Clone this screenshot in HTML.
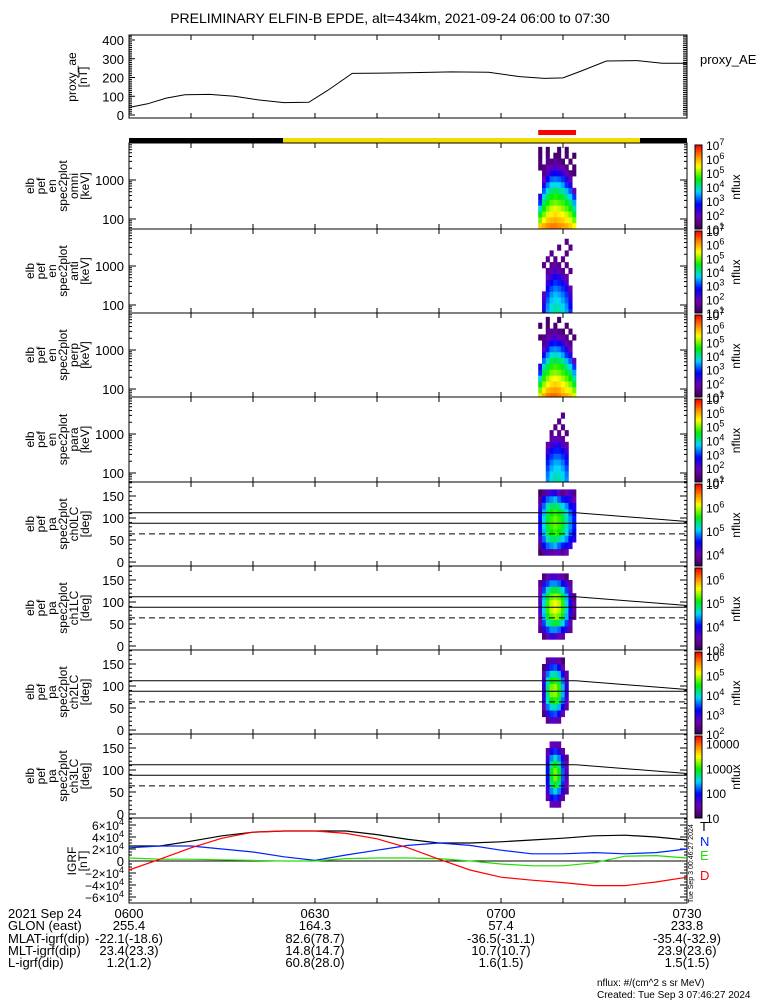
<!DOCTYPE html>
<html><head><meta charset="utf-8"><style>
body{margin:0;background:#fff;}
svg{display:block;font-family:"Liberation Sans",sans-serif;}
</style></head><body>
<svg id="c" width="775" height="1000" xmlns="http://www.w3.org/2000/svg"></svg>
<script>
// ---- data ----
const aeTimes=[0,3,6,9,13,17,21,25,29,32,36,45,52,58,63,67,70,73,77,82,86,90];
const aeValues=[40,60,90,108,110,100,80,66,68,130,222,225,230,228,205,195,198,235,288,290,276,276];
const igrfTimes=[0,5,10,15,20,25,30,35,40,45,50,55,60,65,70,75,80,85,90];
const igrfT=[2.5,2.5,3.3,4.2,4.8,5.0,5.0,5.0,4.4,3.6,3.0,3.0,3.2,3.5,3.8,4.2,4.3,4.0,3.5];
const igrfN=[2.2,2.5,2.5,2.0,1.5,0.7,0.1,1.0,1.8,2.6,3.0,2.6,1.8,1.2,1.2,1.4,1.2,1.4,2.0];
const igrfE=[0.5,0.3,0.3,0.2,0.1,0,0,0.4,0.5,0.5,0.4,0,-0.5,-0.8,-0.8,-0.3,0.8,0.9,0.5];
const igrfD=[-1.5,0.3,2.2,3.8,4.8,5.0,5.0,4.6,3.7,2.2,0.3,-1.5,-2.7,-3.2,-3.6,-4.1,-4.1,-3.5,-2.7];
const specStart=66.0, specEnd=72.1; // minutes after 06:00
const omni=[
[5.8,6,6.2,6.3,6.3,6.2,6.1,6,5.8,5.5],
[5,5.5,5.8,5.9,6,5.9,5.8,5.6,5.4,5],
[4.5,5,5.4,5.6,5.7,5.6,5.5,5.3,5,4.5],
[3.8,4.6,5,5.3,5.4,5.3,5.1,4.9,4.6,4],
[3,4.2,4.6,4.9,5,4.9,4.8,4.5,4.2,3.5],
[2.5,3.8,4.3,4.6,4.7,4.6,4.4,4.1,3.7,3],
[0,3.2,3.8,4.2,4.3,4.2,4,3.6,3.2,2],
[0,2.5,3.3,3.7,3.8,3.7,3.5,3,2.5,0],
[0,2,2.8,3.2,3.3,3.2,3,2.5,2,0],
[0,1.5,2.2,2.6,2.8,2.6,2.4,2,1.5,1.3],
[1.3,1.5,1.8,2,2.2,2,1.8,1.5,0,1.3],
[1.3,0,1.5,1.5,1.7,1.5,1.3,0,1.3,0],
[1.2,0,1.3,0,1.3,1.3,0,1.3,0,1.2],
[1.2,0,1.2,0,0,1.2,0,1.2,0,0]];
const perp=[
[5.7,6,6.3,6.4,6.4,6.3,6.1,6,5.8,5.4],
[5,5.6,5.9,6,6.1,6,5.8,5.6,5.4,5],
[4.5,5.1,5.5,5.7,5.8,5.7,5.5,5.3,5,4.5],
[3.8,4.7,5.1,5.4,5.5,5.4,5.2,4.9,4.6,4],
[3,4.3,4.7,5,5.1,5,4.8,4.5,4.2,3.5],
[2.5,3.9,4.4,4.7,4.8,4.7,4.5,4.1,3.7,3],
[0,3.3,3.9,4.3,4.4,4.3,4.1,3.6,3.2,2],
[0,2.6,3.4,3.8,3.9,3.8,3.5,3,2.5,0],
[0,2,2.9,3.3,3.4,3.3,3,2.5,2,0],
[0,1.5,2.3,2.7,2.9,2.7,2.4,2,1.5,0],
[1.3,1.5,1.8,2.1,2.2,2,1.8,1.5,0,1.3],
[0,0,1.5,1.6,1.7,1.5,1.3,0,1.3,0],
[1.2,0,1.3,0,1.3,0,0,1.3,0,0],
[0,0,1.2,0,0,1.2,0,0,0,0]];
const anti=[
[0,2.5,3.5,3.8,4,4,3.8,3.5,3,0],
[0,2.5,3.4,3.8,4,3.9,3.7,3.4,2.8,0],
[0,2.3,3.2,3.6,3.8,3.7,3.5,3.2,2.5,0],
[0,2,3,3.4,3.6,3.5,3.3,3,2.3,0],
[0,0,2.7,3.1,3.3,3.2,3,2.6,2,0],
[0,0,2.4,2.8,3,2.9,2.6,2.2,0,0],
[0,0,2,2.4,2.6,2.5,2.2,1.8,0,0],
[0,0,1.5,2,2.2,2,1.6,0,1.5,0],
[0,1.5,0,1.5,1.8,1.5,0,1.5,0,0],
[0,0,1.5,0,1.5,0,1.5,0,0,0],
[0,0,0,1.5,0,0,0,1.5,0,0],
[0,0,0,0,0,1.5,0,0,1.5,0],
[0,0,0,0,0,0,0,1.5,0,0],
[0,0,0,0,0,0,0,0,0,0]];
const para=[
[0,0,3.4,3.8,4,4,3.8,3.4,0,0],
[0,0,3.3,3.7,3.9,3.9,3.7,3.3,0,0],
[0,0,3.1,3.5,3.7,3.7,3.5,3.1,0,0],
[0,0,2.9,3.3,3.5,3.5,3.3,2.9,0,0],
[0,0,2.6,3,3.2,3.2,3,2.6,0,0],
[0,0,2.2,2.7,2.9,2.9,2.7,2.2,0,0],
[0,0,1.8,2.3,2.5,2.5,2.2,1.8,0,0],
[0,0,0,1.8,2,2,1.7,0,0,0],
[0,0,0,1.5,0,1.6,0,1.5,0,0],
[0,0,0,0,1.5,0,1.5,0,0,0],
[0,0,0,0,0,1.5,0,0,0,0],
[0,0,0,0,0,0,1.5,0,0,0],
[0,0,0,0,0,0,0,0,0,0],
[0,0,0,0,0,0,0,0,0,0]];
const pa0=[
[0,0,0,0,0,0,0,0,0,0],
[3.6,3.8,4.2,3.9,4,4.1,3.8,4,0,0],
[3.8,4.5,4.8,4.9,5,4.8,4.6,4.5,4.3,0],
[4.2,4.8,5.2,5.4,5.4,5.3,5.1,4.9,4.5,4.4],
[4.4,5,5.4,5.6,5.7,5.6,5.4,5.1,4.8,4.5],
[4.5,5.1,5.5,5.7,5.8,5.7,5.5,5.2,4.9,4.6],
[4.5,5.1,5.5,5.7,5.8,5.7,5.5,5.2,4.9,4.6],
[4.4,5,5.4,5.6,5.7,5.6,5.4,5.1,4.8,4.5],
[4.2,4.8,5.2,5.4,5.4,5.3,5.1,4.9,4.5,4.4],
[3.8,4.5,4.8,4.9,5,4.8,4.6,4.5,4.3,4],
[3.6,3.8,4.2,4.3,4.4,4.1,3.8,4,4.2,3.8],
[0,0,0,0,0,0,0,0,0,0]];
const pa1=[
[0,0,0,0,0,0,0,0,0,0],
[0,3.2,3.6,3.8,3.7,3.6,3.4,0,0,0],
[3.3,3.8,4.2,4.4,4.4,4.3,4,3.8,3.4,0],
[3.5,4.2,4.7,4.9,5,4.9,4.6,4.2,3.6,0],
[3.6,4.5,5,5.3,5.4,5.3,5,4.5,3.8,3.3],
[3.7,4.6,5.2,5.5,5.6,5.5,5.2,4.6,3.9,3.4],
[3.7,4.6,5.2,5.5,5.6,5.5,5.2,4.6,3.9,3.4],
[3.6,4.5,5,5.3,5.4,5.3,5,4.5,3.8,3.3],
[3.5,4.2,4.7,4.9,5,4.9,4.6,4.2,3.6,0],
[3.3,3.8,4.2,4.4,4.4,4.3,4,3.8,3.4,0],
[0,3.2,3.5,3.7,3.7,3.6,3.4,3.2,0,0],
[0,0,0,0,0,0,0,0,0,0]];
const pa2=[
[0,0,0,0,0,0,0,0,0,0],
[0,0,2.4,2.8,2.8,2.5,0,0,0,0],
[0,2.2,3,3.4,3.5,3.2,2.6,0,0,0],
[0,2.6,3.6,4,4.1,3.8,3.2,2.5,0,0],
[0,2.9,4,4.5,4.6,4.3,3.6,2.8,0,0],
[0,3,4.2,4.8,4.9,4.6,3.8,3,0,0],
[0,3,4.2,4.8,4.9,4.6,3.8,3,0,0],
[0,2.9,4,4.5,4.6,4.3,3.6,2.8,0,0],
[0,2.6,3.6,4,4.1,3.8,3.2,2.5,0,0],
[0,2.2,3,3.4,3.5,3.2,2.6,0,0,0],
[0,0,2.4,2.8,2.8,2.5,2.2,0,0,0],
[0,0,0,0,0,0,0,0,0,0]];
const pa3=[
[0,0,0,0,0,0,0,0,0,0],
[0,0,0,1.5,1.6,1.4,0,0,0,0],
[0,0,1.4,1.9,2.1,1.8,1.4,0,0,0],
[0,0,1.7,2.3,2.6,2.3,1.8,1.3,0,0],
[0,0,1.9,2.7,3,2.7,2.1,1.5,0,0],
[0,0,2,2.9,3.2,2.9,2.2,1.6,0,0],
[0,0,2,2.9,3.2,2.9,2.2,1.6,0,0],
[0,0,1.9,2.7,3,2.7,2.1,1.5,0,0],
[0,0,1.7,2.3,2.6,2.3,1.8,1.3,0,0],
[0,0,1.4,1.9,2.1,1.8,1.4,0,0,0],
[0,0,0,1.5,1.6,1.4,0,0,0,0],
[0,0,0,0,0,0,0,0,0,0]];
const loLine=[112,112,92]; // PA line values at t=0, t=specEnd, t=90
const midLine=88, dashLine=64;

// ---- helpers ----
const svg=document.getElementById('c');
const NS='http://www.w3.org/2000/svg';
function el(tag,attrs,parent){const e=document.createElementNS(NS,tag);for(const k in attrs)e.setAttribute(k,attrs[k]);(parent||svg).appendChild(e);return e;}
const X0=129,X1=687;
const xs=t=>X0+(X1-X0)*t/90;
const stops=[[0,[55,0,85]],[0.15,[110,0,180]],[0.3,[0,0,255]],[0.45,[0,215,255]],[0.6,[0,240,0]],[0.75,[255,255,0]],[0.87,[255,140,0]],[1,[255,0,0]]];
function cmap(v){v=Math.max(0,Math.min(1,v));for(let i=1;i<stops.length;i++){if(v<=stops[i][0]){const a=stops[i-1],b=stops[i],f=(v-a[0])/(b[0]-a[0]);const c=a[1].map((x,j)=>Math.round(x+(b[1][j]-x)*f));return `rgb(${c})`;}}return 'rgb(255,0,0)';}
function txt(s,x,y,o){const t=el('text',Object.assign({x:x,y:y,'font-size':12,fill:'#000'},o||{}));t.textContent=s;return t;}
function rotLabel(lines,x,cy,name){const g=el('g',{});lines.forEach((s,i)=>{const xx=x+i*11;const t=el('text',{x:xx,y:cy,'font-size':12,'text-anchor':'middle',transform:`rotate(-90 ${xx} ${cy})`},g);t.textContent=s;});}
function xticks(top,bot){for(let m=0;m<=90;m+=10){const x=xs(m);el('line',{x1:x,x2:x,y1:bot,y2:bot-5,stroke:'#000'});el('line',{x1:x,x2:x,y1:top,y2:top+5,stroke:'#000'});}}
function box(top,bot,name){const r=el('rect',{x:X0,y:top,width:X1-X0,height:bot-top,fill:'none',stroke:'#000','stroke-width':1});xticks(top,bot);}
function sup(base,exp,x,y,anchor,g){const t=el('text',{x:x,y:y,'font-size':12,'text-anchor':anchor||'start'},g);t.textContent=base;const s=el('tspan',{dy:-5,'font-size':9},t);s.textContent=exp;return t;}
function colorbar(top,bot,lo,hi,labels,name){const g=el('g',{});const n=40,h=(bot-top)/n;for(let i=0;i<n;i++)el('rect',{x:695,y:bot-(i+1)*h,width:7,height:h+0.5,fill:cmap((i+0.5)/n)},g);el('rect',{x:695,y:top,width:7,height:bot-top,fill:'none',stroke:'#000'},g);labels.forEach(L=>{const y=bot-(L[0]-lo)/(hi-lo)*(bot-top)+5;if(L[1])sup('10',L[0],706,y,'start',g);else {const t=el('text',{x:706,y:y,'font-size':12},g);t.textContent=L[2];}});const cy=(top+bot)/2;const t=el('text',{x:740,y:cy,'font-size':12,'text-anchor':'middle',transform:`rotate(-90 740 ${cy})`},g);t.textContent='nflux';}

// title
const ti=txt('PRELIMINARY ELFIN-B EPDE, alt=434km, 2021-09-24 06:00 to 07:30',390,23,{'text-anchor':'middle','font-size':14});


// ---- AE panel ----
const aeTop=35,aeBot=118,aeY=v=>115-v*0.1875;
box(aeTop,aeBot,'proxy-ae-panel');
[0,100,200,300,400].forEach(v=>{txt(String(v),124,aeY(v)+5,{'text-anchor':'end','font-size':13});el('line',{x1:X0,x2:X0+6,y1:aeY(v),y2:aeY(v),stroke:'#000'});});
for(let v=0;v<=420;v+=10){el('line',{x1:X0,x2:X0+3,y1:aeY(v),y2:aeY(v),stroke:'#000'});el('line',{x1:X1,x2:X1-4,y1:aeY(v),y2:aeY(v),stroke:'#000'});}
let d='';aeTimes.forEach((t,i)=>{d+=(i?'L':'M')+xs(t).toFixed(1)+' '+aeY(aeValues[i]).toFixed(1);});
const ael=el('path',{d:d,fill:'none',stroke:'#000','stroke-width':1});
rotLabel(['proxy_ae','[nT]'],76,77,'proxy-ae-axis-title');
const pl=txt('proxy_AE',700,64,{'font-size':13});

// science zone bars
const b1=el('rect',{x:X0,y:138,width:154,height:5,fill:'#000'});
const b2=el('rect',{x:283,y:138,width:357,height:5,fill:'#f5dc00'});
const b3=el('rect',{x:640,y:138,width:47,height:5,fill:'#000'});
const b4=el('rect',{x:xs(specStart),y:130,width:xs(specEnd)-xs(specStart),height:5,fill:'#f00'});

// ---- energy spectrogram panels ----
const ePanels=[[143,229,omni,'omni'],[229,313,anti,'anti'],[313,397,perp,'perp'],[397,482,para,'para']];
const eEdges=[1.75,1.9,2.05,2.2,2.35,2.5,2.65,2.8,2.95,3.1,3.25,3.4,3.55,3.7,3.85];
ePanels.forEach((P,pi)=>{
 const [top,bot,grid,nm]=P;const eY=l=>top+37+(3-l)*39;
 box(top,bot,'energy-panel-'+nm);
 const g=el('g',{});
 const nc=grid[0].length,dt=(specEnd-specStart)/nc;
 grid.forEach((row,ri)=>row.forEach((v,ci)=>{if(!v)return;const y1=Math.max(top,eY(eEdges[ri+1])),y2=Math.min(bot,eY(eEdges[ri]));if(y2<=y1)return;
  el('rect',{x:xs(specStart+ci*dt),y:y1,width:xs(specStart+(ci+1)*dt)-xs(specStart+ci*dt)+0.3,height:y2-y1+0.3,fill:cmap((v-1)/6)},g);}));
 [[3,'1000'],[2,'100']].forEach(L=>{txt(L[1],124,eY(L[0])+5,{'text-anchor':'end','font-size':13});});
 for(let dec=1;dec<=3;dec++)for(let m=1;m<10;m++){const y=eY(dec+Math.log10(m));if(y<top||y>bot)continue;const len=m==1?7:3;el('line',{x1:X0,x2:X0+len,y1:y,y2:y,stroke:'#000'});el('line',{x1:X1,x2:X1-len,y1:y,y2:y,stroke:'#000'});}
 rotLabel(['elb','pef','en','spec2plot',nm,'[keV]'],34,(top+bot)/2,'energy-axis-title-'+nm);
 colorbar(top+2,bot,1,7,[[7,1],[6,1],[5,1],[4,1],[3,1],[2,1],[1,1]],'colorbar-'+nm);
});

// ---- pitch-angle panels ----
const paPanels=[[482,566,pa0,'ch0LC',3.5,7,[[7,1],[6,1],[5,1],[4,1]]],[566,650,pa1,'ch1LC',3,6.5,[[6,1],[5,1],[4,1],[3,1]]],[650,734,pa2,'ch2LC',2,6.2,[[6,1],[5,1],[4,1],[3,1],[2,1]]],[734,818,pa3,'ch3LC',1,4.3,[[4,0,'10000'],[3,0,'1000'],[2,0,'100'],[1,0,'10']]]];
paPanels.forEach(P=>{
 const [top,bot,grid,nm,lo,hi,labs]=P;const pY=a=>bot-4-a*0.44;
 box(top,bot,'pa-panel-'+nm);
 const g=el('g',{});
 const nc=grid[0].length,dt=(specEnd-specStart)/nc,nb=grid.length,da=180/nb;
 grid.forEach((row,ri)=>row.forEach((v,ci)=>{if(!v)return;const y1=Math.max(top,pY((ri+1)*da)),y2=pY(ri*da);
  el('rect',{x:xs(specStart+ci*dt),y:y1,width:xs(specStart+(ci+1)*dt)-xs(specStart+ci*dt)+0.3,height:y2-y1+0.3,fill:cmap((v-lo)/(hi-lo))},g);}));
 [0,50,100,150].forEach(a=>{txt(String(a),124,pY(a)+5,{'text-anchor':'end','font-size':13});el('line',{x1:X0,x2:X0+7,y1:pY(a),y2:pY(a),stroke:'#000'});el('line',{x1:X1,x2:X1-7,y1:pY(a),y2:pY(a),stroke:'#000'});});
 for(let a=0;a<=180;a+=10){el('line',{x1:X0,x2:X0+3,y1:pY(a),y2:pY(a),stroke:'#000'});el('line',{x1:X1,x2:X1-3,y1:pY(a),y2:pY(a),stroke:'#000'});}
 const l1=el('path',{d:`M${X0} ${pY(loLine[0])}L${xs(specEnd)} ${pY(loLine[1])}L${X1} ${pY(loLine[2])}`,fill:'none',stroke:'#000'});
 const l2=el('line',{x1:X0,x2:X1,y1:pY(midLine),y2:pY(midLine),stroke:'#000'});
 const l3=el('line',{x1:X0,x2:X1,y1:pY(dashLine),y2:pY(dashLine),stroke:'#000','stroke-dasharray':'6,4'});
 rotLabel(['elb','pef','pa','spec2plot',nm,'[deg]'],34,(top+bot)/2,'pa-axis-title-'+nm);
 colorbar(top+2,bot,lo,hi,labs,'colorbar-'+nm);
});

// ---- IGRF panel ----
const gTop=818,gBot=903,gY=v=>861-v*6;
box(gTop,gBot,'igrf-panel');
el('line',{x1:X0,x2:X1,y1:gY(0),y2:gY(0),stroke:'#000'});
[6,4,2,-2,-4,-6].forEach(v=>{sup((v<0?'\u2212':'')+Math.abs(v)+'\u00d710','4',124,gY(v)+5,'end');});
txt('0',124,gY(0)+5,{'text-anchor':'end','font-size':13});
for(let v=-7;v<=7;v+=0.5){const len=(v%2==0)?7:3;el('line',{x1:X0,x2:X0+len,y1:gY(v),y2:gY(v),stroke:'#000'});el('line',{x1:X1,x2:X1-len,y1:gY(v),y2:gY(v),stroke:'#000'});}
[['T',igrfT,'#000'],['N',igrfN,'#0020ff'],['E',igrfE,'#22e000'],['D',igrfD,'#ff0000']].forEach((S,k)=>{
 let dd='';igrfTimes.forEach((t,i)=>{dd+=(i?'L':'M')+xs(t).toFixed(1)+' '+gY(S[1][i]).toFixed(1);});
 const p=el('path',{d:dd,fill:'none',stroke:S[2],'stroke-width':1.2});
 const lt=txt(S[0],700,[831,846,860,880][k],{fill:S[2],'font-size':13});
});
rotLabel(['IGRF','[nT]'],76,861,'igrf-axis-title');
const vt=txt('Tue Sep  3 00:46:27 2024',693,903,{'font-size':7,transform:'rotate(-90 693 903)'});

// ---- bottom annotation ----
const rows=[['2021 Sep 24','0600','0630','0700','0730'],['GLON (east)','255.4','164.3','57.4','233.8'],['MLAT-igrf(dip)','-22.1(-18.6)','82.6(78.7)','-36.5(-31.1)','-35.4(-32.9)'],['MLT-igrf(dip)','23.4(23.3)','14.8(14.7)','10.7(10.7)','23.9(23.6)'],['L-igrf(dip)','1.2(1.2)','60.8(28.0)','1.6(1.5)','1.5(1.5)']];
const ry=[918,930,943,955,967];
rows.forEach((r,i)=>{const g=el('g',{});
 let t=el('text',{x:8,y:ry[i],'font-size':13},g);t.textContent=r[0];
 [0,30,60,90].forEach((m,j)=>{t=el('text',{x:xs(m),y:ry[i],'font-size':13,'text-anchor':'middle'},g);t.textContent=r[j+1];});});
const f1=txt('nflux: #/(cm^2 s sr MeV)',597,986,{'font-size':10});
const f2=txt('Created: Tue Sep  3 07:46:27 2024',597,998,{'font-size':10});
</script>
</body></html>
